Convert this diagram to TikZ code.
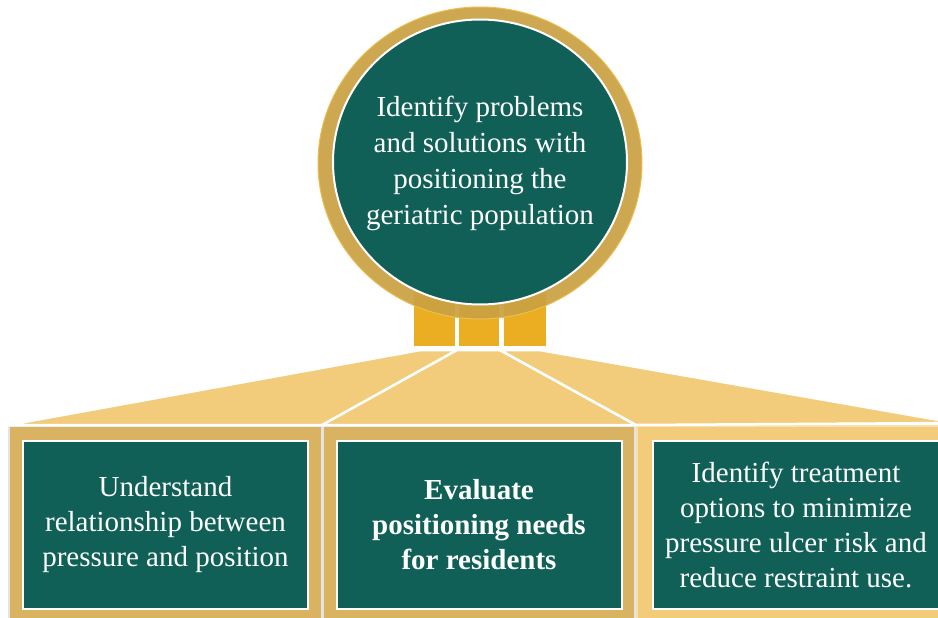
\documentclass[tikz,border=0pt]{standalone}
\usepackage{fontspec}
\setmainfont{Liberation Serif}
\usepackage{xcolor}
\usetikzlibrary{positioning}
\usetikzlibrary{calc}
\usetikzlibrary{shapes.geometric}

\definecolor{goalgreen}{RGB}{16,96,87}
\definecolor{ringgold}{RGB}{201,161,66}
\definecolor{ringedge}{RGB}{236,190,82}
\definecolor{tabgold}{RGB}{235,174,34}
\definecolor{fangold}{RGB}{242,204,122}
\definecolor{boxtan}{RGB}{217,179,97}
\definecolor{boxline}{RGB}{228,228,228}

\begin{document}
\begin{tikzpicture}[x=1pt, y=-1pt, align=center, font=\fontsize{29}{35}\selectfont,
	ring/.style={ellipse,fill=ringgold,draw=ringedge,line width=1pt,fill opacity=0.92,minimum width=324pt,minimum height=312pt,inner sep=0pt},
	core/.style={ellipse,fill=goalgreen,draw=white,line width=2pt,minimum width=294pt,minimum height=285pt,inner sep=0pt},
	tabnode/.style={rectangle,fill=tabgold,minimum width=41pt,minimum height=53pt,inner sep=0pt},
	fan/.style={fill=fangold,draw=white,line width=2.5pt,line join=round},
	outbox/.style={rectangle,fill=boxtan,draw=boxline,line width=2pt,minimum height=197pt,inner sep=0pt},
	goalbox/.style={rectangle,fill=goalgreen,draw=white,line width=2pt,text=white,minimum width=285pt,minimum height=168pt,inner sep=0pt}]
	\useasboundingbox (0,0) rectangle (938,618);
	\clip (0,0) rectangle (938,618);
	% lower boxes
	\node[outbox, minimum width=313pt] (outL) at (165.5,524.5) {};
	\node[outbox, minimum width=312pt] (outM) at (479,524.5) {};
	\node[outbox, minimum width=318pt, fill=fangold, draw=fangold!60!white] (outR) at (796,524.5) {};
	% tabs under the circle
	\node[tabnode, minimum width=40pt] (tabM) at (479,319.5) {};
	\node[tabnode] (tabL) [left = 4pt of tabM] {};
	\node[tabnode, minimum width=42pt] (tabR) [right = 5pt of tabM] {};
	% fans from tabs to boxes
	\draw[fan] ($(tabL.south west)+(6,4)$) -- ($(tabL.south east)+(2,4)$) -- (outL.north east) -- (outL.north west) -- cycle;
	\draw[fan] ($(tabL.south east)+(2,4)$) -- ($(tabR.south west)+(-4,4)$) -- (outM.north east) -- (outM.north west) -- cycle;
	\draw[fan] ($(tabR.south west)+(-4,4)$) -- ($(tabR.south east)+(-6,4)$) -- ($(outR.north east)+(0,-2)$) -- (outR.north west) -- cycle;
	% circle
	\node[ring] (ring) at (480,163) {};
	\node[core] (core) at (480,162) {};
	\node[text=white, font=\fontsize{29}{36}\selectfont] (goal) at ($(core)+(0,1)$) {Identify problems\\and solutions with\\positioning the\\geriatric population};
	% goal boxes
	\node[goalbox] (understand) at (outL) {Understand\\relationship between\\pressure and position};
	\node[goalbox, font=\fontsize{29}{35}\selectfont\bfseries] (evaluate) at (outM) {Evaluate\\positioning needs\\for residents};
	\node[goalbox, minimum width=287pt] (treat) at (outR) {Identify treatment\\options to minimize\\pressure ulcer risk and\\reduce restraint use.};
\end{tikzpicture}
\end{document}
